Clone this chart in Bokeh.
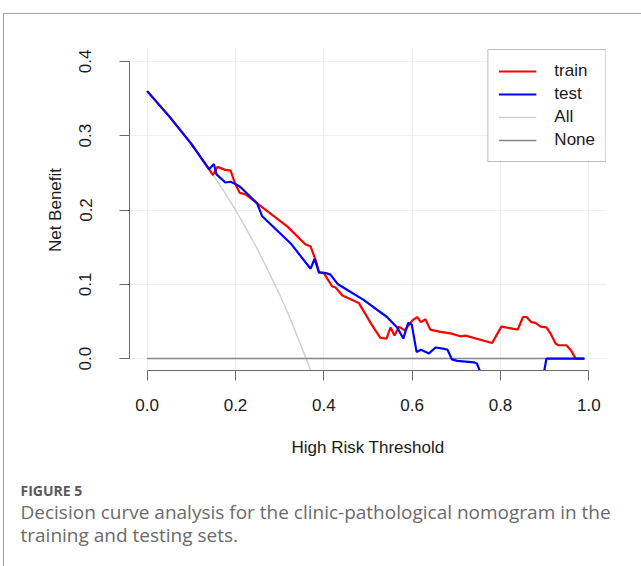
from bokeh.plotting import figure
from bokeh.layouts import column
from bokeh.models import Legend, LegendItem, FixedTicker, Range1d
from bokeh.core.properties import value
from bokeh.embed import file_html
from bokeh.resources import INLINE

# ---- data ----
train_x = [0.00, 0.05, 0.10, 0.14, 0.149, 0.159, 0.177, 0.189, 0.193, 0.200, 0.210, 0.223, 0.249,
           0.317, 0.358, 0.370, 0.383, 0.389, 0.400, 0.419, 0.426, 0.442, 0.457, 0.479, 0.509,
           0.528, 0.542, 0.551, 0.560, 0.570, 0.583, 0.600, 0.611, 0.620, 0.630, 0.641, 0.664,
           0.687, 0.709, 0.721, 0.781, 0.802, 0.839, 0.851, 0.859, 0.870, 0.879, 0.891, 0.904,
           0.913, 0.925, 0.932, 0.949, 0.960, 0.970, 0.990]
train_y = [0.360, 0.326, 0.289, 0.255, 0.247, 0.258, 0.254, 0.253, 0.246, 0.234, 0.223, 0.221, 0.209,
           0.178, 0.154, 0.151, 0.130, 0.116, 0.115, 0.097, 0.096, 0.085, 0.081, 0.075, 0.045,
           0.028, 0.027, 0.042, 0.031, 0.043, 0.038, 0.051, 0.056, 0.049, 0.053, 0.039, 0.036,
           0.034, 0.030, 0.031, 0.021, 0.043, 0.039, 0.056, 0.056, 0.049, 0.048, 0.043, 0.042,
           0.034, 0.020, 0.018, 0.018, 0.011, 0.000, 0.000]

test_x = [0.00, 0.05, 0.10, 0.14, 0.151, 0.157, 0.177, 0.189, 0.200, 0.211, 0.249, 0.260, 0.325,
          0.370, 0.379, 0.389, 0.406, 0.415, 0.432, 0.490, 0.543, 0.566, 0.580, 0.591, 0.599,
          0.610, 0.620, 0.638, 0.653, 0.673, 0.680, 0.690, 0.702, 0.740, 0.747, 0.762, 0.895,
          0.904, 0.990]
test_y = [0.360, 0.326, 0.289, 0.255, 0.262, 0.248, 0.237, 0.238, 0.235, 0.231, 0.209, 0.192, 0.155,
          0.121, 0.134, 0.116, 0.115, 0.113, 0.100, 0.079, 0.056, 0.042, 0.027, 0.048, 0.046,
          0.009, 0.012, 0.007, 0.015, 0.013, 0.012, -0.001, -0.003, -0.005, -0.007, -0.030, -0.030,
          0.000, 0.000]

all_x = [0.00, 0.05, 0.10, 0.15, 0.175, 0.20, 0.225, 0.25, 0.275, 0.30, 0.315, 0.33, 0.345, 0.36, 0.38]
all_y = [0.360, 0.326, 0.289, 0.247, 0.224, 0.200, 0.174, 0.147, 0.117, 0.086, 0.066, 0.045, 0.022, 0.000, -0.032]

none_x = [0.00, 0.99]
none_y = [0.00, 0.00]

x_ticks = [0.0, 0.2, 0.4, 0.6, 0.8, 1.0]
y_ticks = [0.0, 0.1, 0.2, 0.3, 0.4]

series_names = ["train", "test", "All", "None"]

caption_head = "FIGURE 5"
caption_lines = ["Decision curve analysis for the clinic-pathological nomogram in the",
                 "training and testing sets."]

FONT = "Liberation Sans"

p = figure(width=637, height=456, output_backend="svg", toolbar_location=None,
           x_range=(-0.04, 1.04), y_range=(-0.016, 0.416),
           min_border_left=125, min_border_right=35, min_border_top=35, min_border_bottom=100,
           background_fill_color="white", border_fill_color="white")
p.outline_line_color = None

# grid
for g in (p.xgrid, p.ygrid):
    g.grid_line_color = "#f0f0f0"
    g.grid_line_width = 1
p.xgrid.ticker = FixedTicker(ticks=x_ticks)
p.ygrid.ticker = FixedTicker(ticks=y_ticks)

# axes
p.xaxis.ticker = FixedTicker(ticks=x_ticks)
p.yaxis.ticker = FixedTicker(ticks=y_ticks)
p.xaxis.bounds = (0, 1)
p.yaxis.bounds = (0, 0.4)
p.xaxis.major_label_overrides = {t: f"{t:.1f}" for t in x_ticks}
p.yaxis.major_label_overrides = {t: f"{t:.1f}" for t in y_ticks}
for ax in (p.xaxis, p.yaxis):
    ax.axis_line_color = "#6a6a6a"
    ax.major_tick_line_color = "#6a6a6a"
    ax.axis_line_width = 1
    ax.major_tick_out = 10
    ax.major_tick_in = 0
    ax.minor_tick_out = 0
    ax.minor_tick_in = 0
    ax.major_label_text_font = FONT
    ax.major_label_text_font_size = "17px"
    ax.major_label_text_color = "#1a1a1a"
    ax.axis_label_text_font = FONT
    ax.axis_label_text_font_size = "17px"
    ax.axis_label_text_font_style = "normal"
    ax.axis_label_text_color = "#1a1a1a"
p.xaxis.axis_label = "High Risk Threshold"
p.yaxis.axis_label = "Net Benefit"
p.yaxis.major_label_orientation = "vertical"
p.xaxis.major_label_standoff = 18
p.yaxis.major_label_standoff = 28
p.xaxis.axis_label_standoff = 24
p.yaxis.axis_label_standoff = 12

# lines
r_all = p.line(all_x, all_y, line_color="#d0d0d0", line_width=1.5)
r_none = p.line(none_x, none_y, line_color="#858585", line_width=1.5)
r_train = p.line(train_x, train_y, line_color="#ff0000", line_width=2.2)
r_test = p.line(test_x, test_y, line_color="#0000ff", line_width=2.2)

legend = Legend(items=[LegendItem(label=series_names[0], renderers=[r_train]),
                       LegendItem(label=series_names[1], renderers=[r_test]),
                       LegendItem(label=series_names[2], renderers=[r_all]),
                       LegendItem(label=series_names[3], renderers=[r_none])],
                location="top_right", margin=0, padding=10, spacing=1,
                glyph_width=38, glyph_height=22, label_height=22, label_standoff=18,
                label_text_font=FONT, label_text_font_size="17px", label_text_color="#1a1a1a",
                border_line_color="#808080", border_line_width=1,
                background_fill_color="white", background_fill_alpha=1.0)
p.add_layout(legend, "center")

# ---- caption panel: a plain figure whose frame is in pixel units (y downward) ----
cap = figure(width=637, height=96, output_backend="svg", toolbar_location=None,
             x_range=Range1d(0, 637), y_range=Range1d(96, 0),
             x_axis_type=None, y_axis_type=None,
             min_border=0, min_border_left=0, min_border_right=0,
             min_border_top=0, min_border_bottom=0,
             background_fill_color="white", border_fill_color="white")
cap.outline_line_color = None
cap.xgrid.visible = False
cap.ygrid.visible = False
if "frame_align" in cap.properties():
    cap.frame_align = False
    p.frame_align = False

cap.text(x=[16], y=[19.5], text=[caption_head], text_font=value("Open Sans"),
         text_font_size="14px", text_font_style="bold", text_color="#5a5a5a",
         text_baseline="alphabetic", text_align="left")
cap.text(x=[16, 16], y=[41.5, 64.5], text=caption_lines, text_font=value("Open Sans"),
         text_font_size="19px", text_color="#6a6a6a",
         text_baseline="alphabetic", text_align="left")

layout = column(p, cap, spacing=0)
layout.styles = {"margin-left": "3px", "margin-top": "13px",
                 "border-left": "1px solid #a0a0a0", "border-top": "1px solid #a0a0a0"}

open("out.html", "w").write(file_html(layout, INLINE))
